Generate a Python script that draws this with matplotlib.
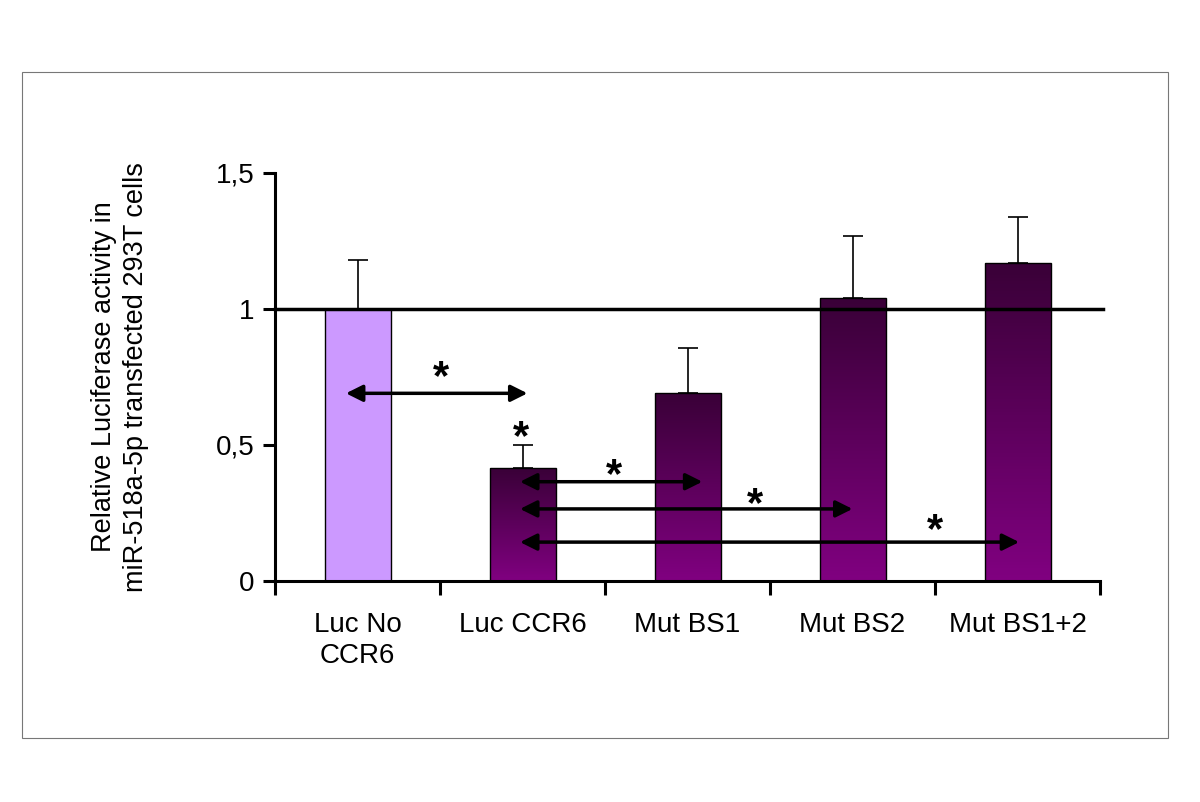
import matplotlib
matplotlib.use("Agg")
import matplotlib.pyplot as plt
import numpy as np
from matplotlib.colors import LinearSegmentedColormap
from matplotlib.patches import Rectangle

categories = ["Luc No\nCCR6", "Luc CCR6", "Mut BS1", "Mut BS2", "Mut BS1+2"]
values = [1.0, 0.415, 0.69, 1.04, 1.17]
errors = [0.18, 0.085, 0.165, 0.23, 0.17]
ref_level = 1.0
yticks = [0, 0.5, 1, 1.5]
ytick_labels = ["0", "0,5", "1", "1,5"]

# comparison arrows (start, end, height) and stars (x, y)
arrows = [(-0.07, 1.03, 0.69), (0.985, 2.09, 0.365), (0.985, 3.0, 0.265), (0.985, 4.01, 0.143)]
stars = [(0.506, 0.745), (0.99, 0.525), (1.555, 0.385), (2.41, 0.28), (3.5, 0.185)]

plt.rcParams['font.family'] = ['Liberation Sans', 'DejaVu Sans']

fig = plt.figure(figsize=(12, 8.02), dpi=100)
fig.patches.append(Rectangle((22/1200, 1-738/802), (1168-22)/1200, (738-72)/802,
                             transform=fig.transFigure, fill=False, ec="#777777", lw=0.8))
ax = fig.add_axes([275/1200, 1-581/802, 825/1200, (581-173)/802])

x = np.arange(len(categories))
w = 0.4
grad = LinearSegmentedColormap.from_list("g", ["#800080", "#3a0038"])
for i, v in enumerate(values):
    if i == 0:
        ax.bar(x[i], v, w, color="#cc99ff", edgecolor="black", lw=1, zorder=2)
    else:
        b = ax.bar(x[i], v, w, color="none", edgecolor="black", lw=1, zorder=3)[0]
        im = ax.imshow(np.linspace(0, 1, 100).reshape(-1, 1), cmap=grad, aspect="auto",
                       extent=[x[i]-w/2, x[i]+w/2, 0, v], origin="lower", zorder=2)
        im.set_clip_path(b)
    ax.errorbar(x[i], v, yerr=[[0], [errors[i]]], fmt="none", ecolor="black",
                elinewidth=1.2, capsize=7, capthick=1.2, zorder=1)

ax.plot([-0.5, 4.52], [ref_level, ref_level], color="black", lw=2.5, zorder=4, clip_on=False)

for x0, x1, y in arrows:
    ax.annotate("", xy=(x1, y), xytext=(x0, y),
                arrowprops=dict(arrowstyle="<|-|>", color="black", lw=2.5,
                                mutation_scale=25, shrinkA=0, shrinkB=0), zorder=5)

for sx, sy in stars:
    ax.text(sx, sy, "*", fontsize=30, fontweight="bold", ha="center", va="center", zorder=6)

ax.set_xlim(-0.5, 4.5)
ax.set_ylim(0, 1.5)
ax.set_yticks(yticks)
ax.set_yticklabels(ytick_labels, fontsize=20)
ax.set_xticks(np.arange(-0.5, 5, 1))
ax.set_xticklabels([])
ax.set_xticks(x, minor=True)
ax.set_xticklabels(categories, minor=True, fontsize=20, linespacing=1.25)
ax.tick_params(axis="x", which="minor", length=0, pad=22)
ax.tick_params(axis="x", which="major", length=10, width=2.2)
ax.tick_params(axis="y", length=9, width=2.2, pad=6)
for s in ["top", "right"]:
    ax.spines[s].set_visible(False)
for s in ["left", "bottom"]:
    ax.spines[s].set_linewidth(2.2)

ax.set_ylabel("Relative Luciferase activity in\nmiR-518a-5p transfected 293T cells",
              fontsize=19.5, labelpad=48, linespacing=1.3)

fig.savefig("out.png", dpi=100)
